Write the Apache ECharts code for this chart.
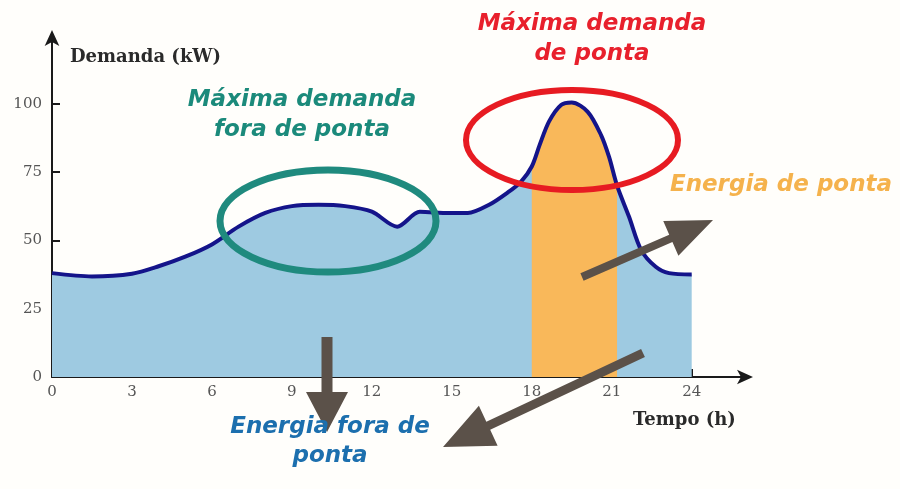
<!DOCTYPE html>
<html>
<head>
<meta charset="utf-8">
<script src="https://cdn.jsdelivr.net/npm/echarts@6/dist/echarts.min.js"></script>
<style>html,body{margin:0;padding:0;background:#fffefb;}#c{width:900px;height:489px;}</style>
</head>
<body>
<div id="c"></div>
<script>
// ---- data ----
const hours  = [0, 1.5, 3, 4, 5, 6, 7, 8, 9, 10, 11, 12, 12.95, 13.8, 14.9, 15.6, 16.4, 17.1, 17.6, 18, 18.3, 18.65, 19.1, 19.5, 20.1, 20.6, 20.9, 21.2, 21.65, 22.1, 22.65, 23.15, 24];
const demand = [38, 36.8, 37.8, 40.5, 44, 48.5, 55, 60, 62.5, 63, 62.5, 60.5, 55, 60.4, 60, 60, 63, 67.5, 71.5, 77, 85, 93.5, 99.5, 100.4, 97, 88.5, 80.5, 70, 58.6, 46.5, 40.3, 38, 37.5];
const peakStart = 18, peakEnd = 21.2;
const xTicks = [0, 3, 6, 9, 12, 15, 18, 21, 24];
const yTicks = [0, 25, 50, 75, 100];

const curve = hours.map((h, i) => [h, demand[i]]);
const peak = curve.filter(p => p[0] >= peakStart && p[0] <= peakEnd);

function arrow(x1, y1, x2, y2, sw, hw, hl) {
  const dx = x2 - x1, dy = y2 - y1, L = Math.hypot(dx, dy);
  const ux = dx / L, uy = dy / L, px = -uy, py = ux;
  const bx = x2 - ux * hl, by = y2 - uy * hl;
  return [
    [x1 + px * sw / 2, y1 + py * sw / 2],
    [bx + px * sw / 2, by + py * sw / 2],
    [bx + px * hw / 2, by + py * hw / 2],
    [x2, y2],
    [bx - px * hw / 2, by - py * hw / 2],
    [bx - px * sw / 2, by - py * sw / 2],
    [x1 - px * sw / 2, y1 - py * sw / 2]
  ];
}
const annFont = 'bold italic 23px "DejaVu Sans"';
const arrowColor = '#5b5149';
function txt(t, x, y, color) {
  return { type: 'text', z: 100, style: { text: t, x: x, y: y, fill: color, font: annFont, textAlign: 'center', textVerticalAlign: 'middle' } };
}

const chart = echarts.init(document.getElementById('c'));
chart.setOption({
  animation: false,
  backgroundColor: '#fffefb',
  grid: { left: 52, right: 155, top: 38, bottom: 112, containLabel: false },
  xAxis: {
    type: 'value', min: 0, max: 26,
    splitLine: { show: false },
    axisLine: { lineStyle: { color: '#1a1a1a', width: 2 }, symbol: ['none', 'arrow'], symbolSize: [11, 16], symbolOffset: [0, 8] },
    axisTick: { inside: true, length: 8, customValues: xTicks, lineStyle: { color: '#1a1a1a', width: 2 } },
    axisLabel: { customValues: xTicks, color: '#555', fontFamily: 'DejaVu Serif', fontSize: 15, margin: 8 },
    name: 'Tempo (h)', nameLocation: 'end', nameGap: -112,
    nameTextStyle: { color: '#2a2a2a', fontFamily: 'DejaVu Serif', fontWeight: 'bold', fontSize: 18, align: 'left', verticalAlign: 'top', padding: [34, 0, 0, 0] }
  },
  yAxis: {
    type: 'value', min: 0, max: 124,
    splitLine: { show: false },
    axisLine: { lineStyle: { color: '#1a1a1a', width: 2 }, symbol: ['none', 'arrow'], symbolSize: [11, 16], symbolOffset: [0, 8] },
    axisTick: { inside: true, length: 8, customValues: yTicks, lineStyle: { color: '#1a1a1a', width: 2 } },
    axisLabel: { customValues: yTicks, color: '#555', fontFamily: 'DejaVu Serif', fontSize: 15, margin: 10 },
    name: 'Demanda (kW)', nameLocation: 'end', nameGap: -19,
    nameTextStyle: { color: '#2a2a2a', fontFamily: 'DejaVu Serif', fontWeight: 'bold', fontSize: 18, align: 'left', verticalAlign: 'middle', padding: [0, 0, 0, 18] }
  },
  series: [
    { type: 'line', data: curve, smooth: 0.3, symbol: 'none', z: 1,
      lineStyle: { width: 0 }, areaStyle: { color: '#9ecae1', opacity: 1 } },
    { type: 'line', data: peak, smooth: 0.3, symbol: 'none', z: 2,
      lineStyle: { width: 0 }, areaStyle: { color: '#f9b85a', opacity: 1 } },
    { type: 'line', data: curve, smooth: 0.3, symbol: 'none', z: 3,
      lineStyle: { width: 4, color: '#14148a' } }
  ],
  graphic: [
    { type: 'ellipse', z: 50, shape: { cx: 328, cy: 221, rx: 108, ry: 51 }, style: { fill: 'none', stroke: '#1f8a7e', lineWidth: 7 } },
    { type: 'ellipse', z: 50, shape: { cx: 572, cy: 140, rx: 106, ry: 50 }, style: { fill: 'none', stroke: '#e71b22', lineWidth: 6 } },
    { type: 'polygon', z: 60, shape: { points: arrow(327, 337, 327, 432, 11, 42, 40) }, style: { fill: arrowColor } },
    { type: 'polygon', z: 60, shape: { points: arrow(643, 353, 443, 447, 9, 44, 50) }, style: { fill: arrowColor } },
    { type: 'polygon', z: 60, shape: { points: arrow(582, 277, 713, 220, 8, 38, 46) }, style: { fill: arrowColor } },
    txt('Máxima demanda', 302, 100, '#1b8a7b'),
    txt('fora de ponta', 302, 130, '#1b8a7b'),
    txt('Máxima demanda', 592, 24, '#e8202c'),
    txt('de ponta', 592, 54, '#e8202c'),
    txt('Energia de ponta', 781, 185, '#f5b24c'),
    txt('Energia fora de', 330, 427, '#1c6fae'),
    txt('ponta', 330, 456, '#1c6fae')
  ]
});
</script>
</body>
</html>
